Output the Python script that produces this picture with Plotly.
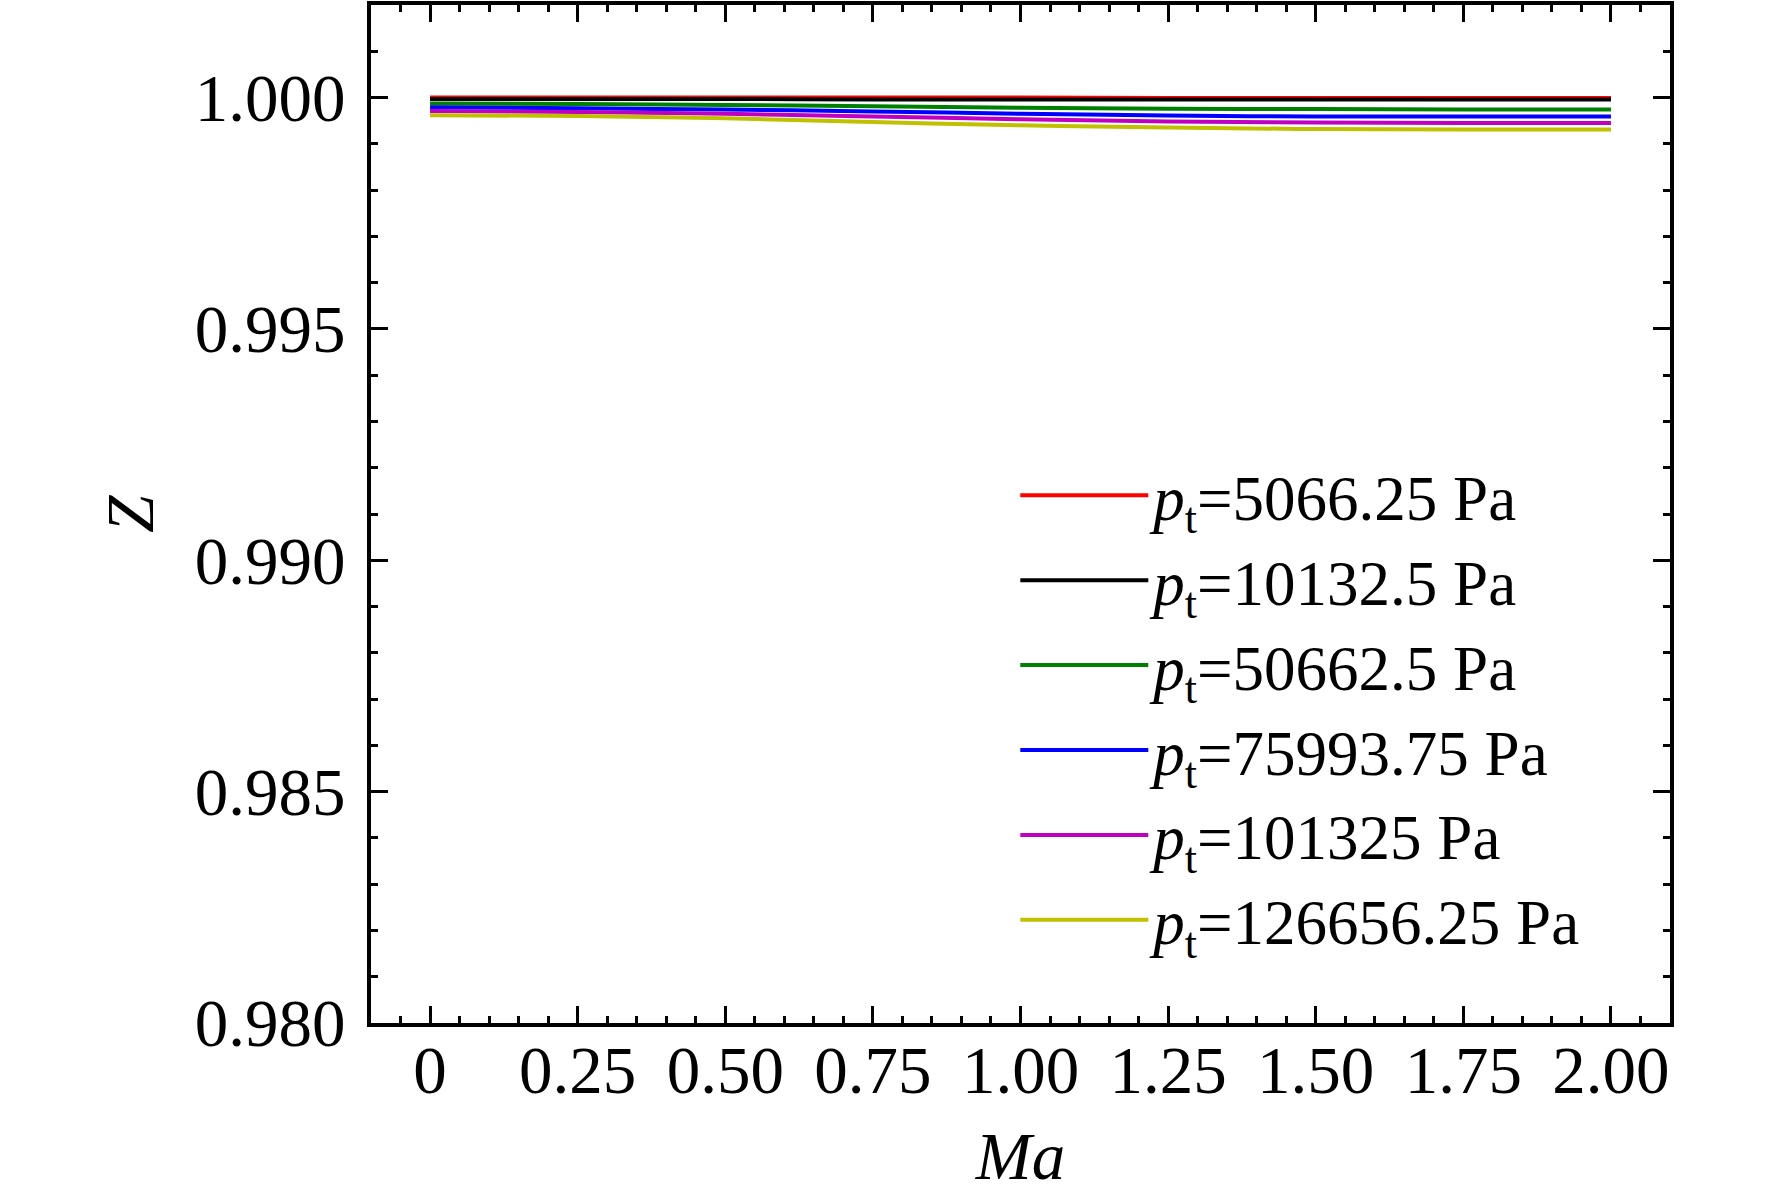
import plotly.graph_objects as go

# Ma values and Z values
ma = [0, 0.25, 0.5, 0.75, 1.0, 1.25, 1.5, 1.75, 2.0]

z_5066 = [1.00000, 1.00000, 1.00000, 1.00000, 1.00000, 0.99999, 0.99999, 0.99999, 0.99999]
z_10132 = [0.99997, 0.99997, 0.99997, 0.99996, 0.99996, 0.99996, 0.99996, 0.99996, 0.99996]
z_50662 = [0.99987, 0.99986, 0.99984, 0.99981, 0.99978, 0.99976, 0.99975, 0.99974, 0.99974]
z_75993 = [0.99979, 0.99977, 0.99974, 0.99970, 0.99965, 0.99961, 0.99959, 0.99959, 0.99959]
z_101325 = [0.99971, 0.99969, 0.99965, 0.99959, 0.99953, 0.99948, 0.99946, 0.99945, 0.99945]
z_126656 = [0.99962, 0.99960, 0.99955, 0.99947, 0.99940, 0.99935, 0.99932, 0.99931, 0.99931]

series = [z_5066, z_10132, z_50662, z_75993, z_101325, z_126656]
names = ["5066.25", "10132.5", "50662.5", "75993.75", "101325", "126656.25"]
colors = ["#FF0000", "#000000", "#008000", "#0000FF", "#C000C0", "#C0C000"]

x_tickvals = [0, 0.25, 0.5, 0.75, 1.0, 1.25, 1.5, 1.75, 2.0]
x_ticktext = ["0", "0.25", "0.50", "0.75", "1.00", "1.25", "1.50", "1.75", "2.00"]
y_tickvals = [0.980, 0.985, 0.990, 0.995, 1.000]
y_ticktext = ["0.980", "0.985", "0.990", "0.995", "1.000"]

font = "Liberation Serif, Times New Roman, serif"

fig = go.Figure()
for z, n, c in zip(series, names, colors):
    fig.add_trace(go.Scatter(x=ma, y=z, mode="lines", line=dict(color=c, width=4, shape="spline"),
                             name=f"<i>p</i><sub>t</sub>={n} Pa"))

axis_common = dict(showline=True, linecolor="black", linewidth=4, mirror="allticks",
                   ticks="inside", ticklen=17, tickwidth=3, tickcolor="black",
                   showgrid=False, zeroline=False,
                   tickfont=dict(family=font, size=67, color="black"))

fig.update_xaxes(range=[-0.1, 2.1], tickvals=x_tickvals, ticktext=x_ticktext,
                 minor=dict(dtick=0.05, ticks="inside", ticklen=7, tickwidth=3, tickcolor="black"),
                 title=dict(text="<i>Ma</i>", font=dict(family=font, size=67, color="black"), standoff=27),
                 ticklabelstandoff=-14, **axis_common)
fig.update_yaxes(range=[0.980, 1.002], tickvals=y_tickvals, ticktext=y_ticktext,
                 minor=dict(dtick=0.001, ticks="inside", ticklen=7, tickwidth=3, tickcolor="black"),
                 title=dict(text="<i>Z</i>", font=dict(family=font, size=67, color="black"), standoff=20),
                 ticklabelstandoff=8, **axis_common)

fig.update_layout(
    width=1772, height=1197,
    margin=dict(l=371, r=102, t=1, b=174),
    plot_bgcolor="white", paper_bgcolor="white",
    font=dict(family=font, size=67, color="black"),
    legend=dict(x=0.496, y=0.565, xanchor="left", yanchor="top",
                bgcolor="rgba(0,0,0,0)", font=dict(family=font, size=63, color="black"),
                itemwidth=128),
)

# drop the page's default body margin so the figure sits at the window corner
fig.write_html("out.html", config={"displayModeBar": False},
               post_script="document.body.style.margin='0';")
